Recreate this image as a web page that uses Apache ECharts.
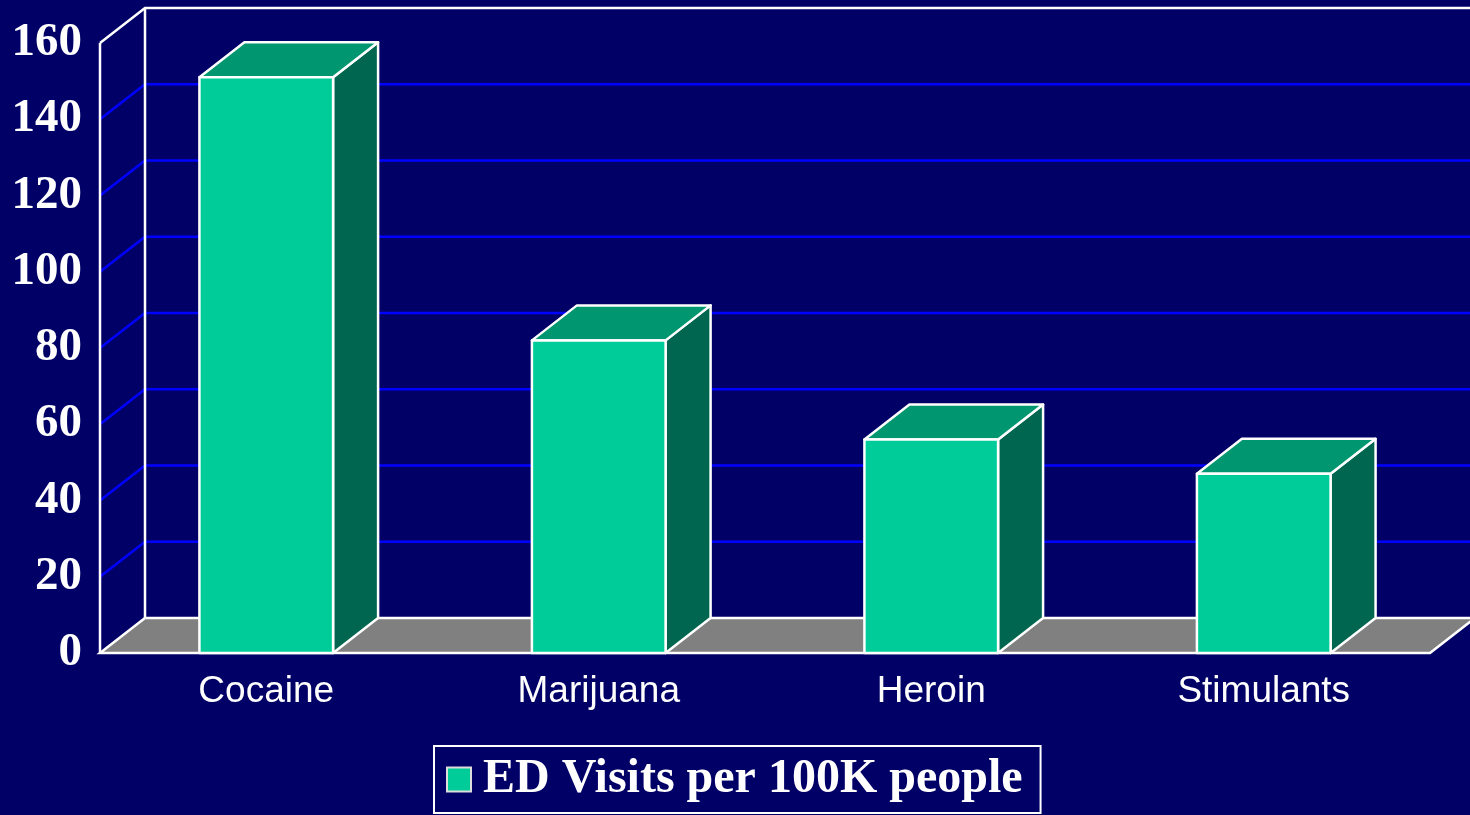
<!DOCTYPE html>
<html>
<head>
<meta charset="utf-8">
<script src="https://cdn.jsdelivr.net/npm/echarts@6/dist/echarts.min.js"></script>
<style>
html,body{margin:0;padding:0;background:#000066;}
#chart{width:1470px;height:815px;}
</style>
</head>
<body>
<div id="chart"></div>
<script>
const categories = ['Cocaine', 'Marijuana', 'Heroin', 'Stimulants'];
const values = [151, 82, 56, 47];
const seriesName = 'ED Visits per 100K people';
const yTicks = [0, 20, 40, 60, 80, 100, 120, 140, 160];

const DX = 45, DY = -35;
const chart = echarts.init(document.getElementById('chart'));

function structure(params, api) {
  const cs = params.coordSys;
  const x0 = cs.x, x1 = cs.x + cs.width;
  const yBot = api.coord([0, 0])[1];
  const yTop = api.coord([0, 160])[1];
  const children = [];
  const white = { stroke: '#ffffff', lineWidth: 2.5 };
  yTicks.forEach(t => {
    if (t === 0 || t === 160) return;
    const y = api.coord([0, t])[1];
    children.push({ type: 'polyline', shape: { points: [[x0, y], [x0 + DX, y + DY], [x1 + DX + 60, y + DY]] },
      style: { stroke: '#0000ff', lineWidth: 2.5, fill: null } });
  });
  children.push({ type: 'polyline', shape: { points: [[x0, yTop], [x0 + DX, yTop + DY], [x1 + DX + 60, yTop + DY]] },
    style: Object.assign({ fill: null }, white) });
  children.push({ type: 'line', shape: { x1: x0 + DX, y1: yTop + DY, x2: x0 + DX, y2: yBot + DY }, style: white });
  children.push({ type: 'polygon', shape: { points: [[x0, yBot], [x1, yBot], [x1 + DX, yBot + DY], [x0 + DX, yBot + DY]] },
    style: { fill: '#808080', stroke: '#ffffff', lineWidth: 2.5 } });
  children.push({ type: 'line', shape: { x1: x0, y1: yTop, x2: x0, y2: yBot }, style: white });
  return { type: 'group', children: children };
}

function bar3d(params, api) {
  const idx = api.value(0);
  const v = api.value(1);
  const top = api.coord([idx, v]);
  const bot = api.coord([idx, 0]);
  const w = api.size([1, 0])[0] * 0.402;
  const l = top[0] - w / 2, r = top[0] + w / 2;
  const yt = top[1], yb = bot[1];
  const edge = { stroke: '#ffffff', lineWidth: 2.5, lineJoin: 'round' };
  return {
    type: 'group',
    children: [
      { type: 'polygon', shape: { points: [[r, yt], [r + DX, yt + DY], [r + DX, yb + DY], [r, yb]] },
        style: Object.assign({ fill: '#006650' }, edge) },
      { type: 'polygon', shape: { points: [[l, yt], [r, yt], [r + DX, yt + DY], [l + DX, yt + DY]] },
        style: Object.assign({ fill: '#009670' }, edge) },
      { type: 'rect', shape: { x: l, y: yt, width: w, height: yb - yt },
        style: Object.assign({ fill: '#00cc99' }, edge) }
    ]
  };
}

chart.setOption({
  backgroundColor: '#000066',
  animation: false,
  grid: { left: 100, right: 40, top: 43, bottom: 162 },
  xAxis: {
    type: 'category', data: categories,
    axisLine: { show: false }, axisTick: { show: false },
    axisLabel: { color: '#ffffff', fontFamily: 'Liberation Sans, Arial, sans-serif', fontSize: 37, margin: 20 }
  },
  yAxis: {
    type: 'value', min: 0, max: 160, interval: 20,
    axisLine: { show: false }, axisTick: { show: false }, splitLine: { show: false },
    axisLabel: { color: '#ffffff', fontFamily: 'Liberation Serif, Times New Roman, serif', fontWeight: 'bold', fontSize: 47, margin: 18, padding: [8, 0, 0, 0] }
  },
  legend: {
    data: [seriesName],
    left: 434, top: 746,
    padding: [7, 18, 7, 12],
    borderColor: '#ffffff', borderWidth: 2,
    icon: 'rect', itemWidth: 24, itemHeight: 24,
    textStyle: { color: '#ffffff', fontFamily: 'Liberation Serif, Times New Roman, serif', fontWeight: 'bold', fontSize: 48, lineHeight: 53, padding: [0, 0, 0, 7] },
    itemStyle: { borderColor: '#dddddd', borderWidth: 2 }
  },
  series: [
    { type: 'custom', renderItem: structure, data: [[0, 0]], silent: true, z: 1 },
    { type: 'custom', name: seriesName, renderItem: bar3d, z: 2,
      itemStyle: { color: '#00cc99' },
      data: values.map((v, i) => [i, v]), encode: { x: 0, y: 1 } }
  ]
});
</script>
</body>
</html>
